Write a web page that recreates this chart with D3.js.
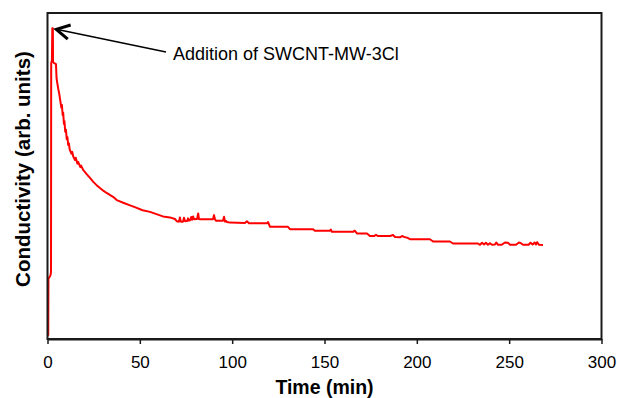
<!DOCTYPE html>
<html>
<head>
<meta charset="utf-8">
<script src="https://cdn.jsdelivr.net/npm/d3@7"></script>
<style>
	body { margin: 0; background: #fff; }
	text { font-family: "Liberation Sans", Arial, sans-serif; }
</style>
</head>
<body>
<div class="chart"></div>
<script>
// time (min) and conductivity (arb. units)
let timeMin = [0, 0.4, 0.5, 1.6, 1.9, 2.0, 2.4, 2.6, 2.9, 3.0, 3.6, 4.6, 4.9, 5.3, 5.8, 6.3, 6.8, 7.5, 7.8, 8.2, 8.5, 8.9, 9.2,
	9.6, 10.0, 10.4, 10.8, 11.2, 11.6, 12.0, 13.0, 13.4, 14.0, 14.9, 15.3, 16.2, 16.6, 17.8, 18.2, 19.4, 21.2, 23.0, 24.8, 26.6, 28.4, 30.2, 32.0, 35.5, 37.5, 41.0,
	44.7, 48.0, 51.5, 55.5, 59.0, 62.5, 66.3, 69.0, 70.1, 71.2, 71.7, 72.2, 73.4, 73.9, 74.5, 75.6, 76.1, 76.6, 77.3, 77.8,
	78.3, 78.8, 79.4, 80.5, 81.0, 81.6, 82.0, 82.5, 88.0, 89.6, 90.2, 90.7, 91.2, 94.0, 95.0, 95.6, 96.1, 96.7, 97.2, 98.8,
	106.9, 108.0, 109.1, 118.9, 119.4, 120.5, 130.2, 131.3, 143.8, 144.8, 152.9, 153.4, 154.0, 165.4, 166.5, 167.6, 173.0, 174.6, 177.0, 177.9,
	178.8, 185.5, 187.1, 188.2, 190.9, 192.0, 193.0, 194.7, 196.3, 207.1, 208.8, 217.9, 219.6, 233.1, 234.2, 235.3, 236.4, 237.4, 238.5, 239.6,
	240.7, 242.3, 243.0, 244.0, 246.0, 247.7, 249.3, 250.5, 253.7, 255.3, 256.4, 257.5, 260.5, 261.6, 262.7, 263.8, 264.5, 265.1, 266.2, 268.3];
let conductivity = [1.0, 1.2, 18.5, 19.5, 20.5, 84.5, 85.5, 95.3, 95.3, 85.0, 84.6, 84.3, 80.0, 78.5, 76.8, 75.4, 73.6, 71.0, 71.8, 68.7, 69.4, 66.0, 66.8,
	63.6, 64.2, 61.3, 61.9, 59.5, 60.0, 58.2, 56.8, 57.4, 55.9, 54.9, 55.6, 53.8, 54.3, 52.7, 53.2, 51.8, 50.6, 49.4, 48.2, 47.2, 46.3, 45.5, 44.8, 43.6, 42.6, 41.8,
	41.0, 40.3, 39.5, 39.0, 38.3, 37.6, 37.3, 36.8, 36.1, 36.0, 37.3, 36.0, 36.0, 37.2, 36.1, 36.2, 37.0, 36.3, 36.5, 37.4,
	36.6, 37.6, 36.7, 36.8, 36.8, 38.5, 36.8, 36.7, 36.7, 36.7, 38.0, 36.7, 36.3, 36.3, 36.3, 37.5, 36.0, 36.2, 35.9, 35.7,
	35.6, 36.1, 35.5, 35.5, 35.9, 34.4, 34.4, 33.7, 33.7, 33.2, 33.2, 33.6, 32.9, 32.9, 33.2, 32.4, 32.4, 31.6, 31.6, 32.0,
	31.6, 31.6, 31.9, 31.3, 31.2, 31.6, 31.3, 31.1, 30.6, 30.6, 29.9, 29.9, 29.3, 29.3, 28.9, 29.5, 29.0, 29.5, 28.9, 29.4,
	28.9, 29.0, 29.6, 28.9, 28.9, 29.6, 29.5, 28.9, 28.9, 29.6, 29.4, 28.9, 28.9, 29.5, 29.0, 29.6, 29.0, 29.7, 28.9, 28.8];
let xTicks = [0, 50, 100, 150, 200, 250, 300];
let annotation = "Addition of SWCNT-MW-3Cl";

let width = 617, height = 398;
let margin = { top: 13, right: 15.5, bottom: 59, left: 47.5 };

let svg = d3.select(".chart")
	.append("svg")
	.attr("width", width)
	.attr("height", height);

let x = d3.scaleLinear().domain([0, 300]).range([margin.left, width - margin.right]);
let y = d3.scaleLinear().domain([0, 100]).range([height - margin.bottom, margin.top]);

let points = timeMin.map((t, i) => [t, conductivity[i]]);

let line = d3.line()
	.x(d => x(d[0]))
	.y(d => y(d[1]));

svg.append("path")
	.datum(points)
	.attr("fill", "none")
	.attr("stroke", "#ff0000")
	.attr("stroke-width", 2)
	.attr("stroke-linejoin", "round")
	.attr("d", line);

// frame around the plot
svg.append("rect")
	.attr("x", margin.left)
	.attr("y", margin.top)
	.attr("width", width - margin.left - margin.right)
	.attr("height", height - margin.top - margin.bottom)
	.attr("fill", "none")
	.attr("stroke", "#1a1a1a")
	.attr("stroke-width", 2);

let xAxis = svg.append("g")
	.attr("transform", "translate(0," + (height - margin.bottom) + ")")
	.call(d3.axisBottom(x).tickValues(xTicks).tickSize(5).tickPadding(12).tickSizeOuter(0));
xAxis.select(".domain").attr("stroke", "#1a1a1a").attr("stroke-width", 2);
xAxis.selectAll(".tick line").attr("stroke", "#1a1a1a").attr("stroke-width", 1.5);
xAxis.selectAll(".tick text")
	.attr("font-family", "Liberation Sans, Arial, sans-serif")
	.attr("font-size", 17)
	.attr("fill", "#000");

svg.append("text")
	.attr("x", (margin.left + width - margin.right) / 2)
	.attr("y", 394)
	.attr("text-anchor", "middle")
	.attr("font-size", 19.5)
	.attr("font-weight", "bold")
	.text("Time (min)");

svg.append("text")
	.attr("transform", "translate(29.5,169) rotate(-90)")
	.attr("text-anchor", "middle")
	.attr("font-size", 20.5)
	.attr("font-weight", "bold")
	.text("Conductivity (arb. units)");

// arrow to the peak
let peak = points.reduce((a, b) => b[1] > a[1] ? b : a);
let tip = [x(peak[0]) + 4, y(peak[1]) + 1];
let tail = [166, 52];
let ang = Math.atan2(tail[1] - tip[1], tail[0] - tip[0]);
let arm = 15, spread = 0.5;

svg.append("line")
	.attr("x1", tail[0]).attr("y1", tail[1])
	.attr("x2", tip[0]).attr("y2", tip[1])
	.attr("stroke", "#000")
	.attr("stroke-width", 1.5);

svg.append("path")
	.attr("d", "M" + (tip[0] + arm * Math.cos(ang - spread)) + "," + (tip[1] + arm * Math.sin(ang - spread)) +
		"L" + tip[0] + "," + tip[1] +
		"L" + (tip[0] + arm * Math.cos(ang + spread)) + "," + (tip[1] + arm * Math.sin(ang + spread)))
	.attr("fill", "none")
	.attr("stroke", "#000")
	.attr("stroke-width", 3);

svg.append("text")
	.attr("x", 173)
	.attr("y", 60)
	.attr("font-size", 18)
	.text(annotation);
</script>
</body>
</html>
